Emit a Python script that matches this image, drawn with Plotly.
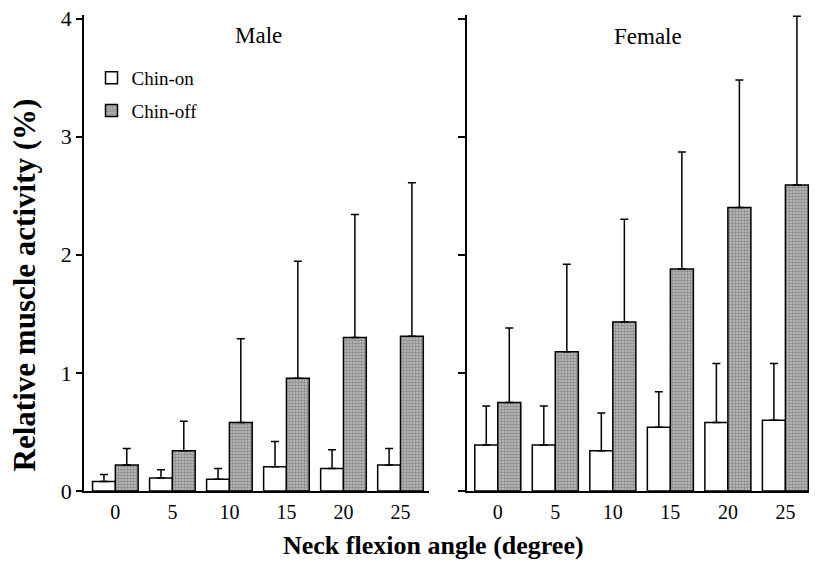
import plotly.graph_objects as go

angles = ["0", "5", "10", "15", "20", "25"]
xpos = [0, 1, 2, 3, 4, 5]

male_on = [0.08, 0.11, 0.10, 0.205, 0.19, 0.22]
male_on_err = [0.14, 0.18, 0.19, 0.42, 0.35, 0.36]
male_off = [0.22, 0.34, 0.58, 0.955, 1.30, 1.31]
male_off_err = [0.36, 0.59, 1.29, 1.945, 2.34, 2.61]

female_on = [0.39, 0.39, 0.34, 0.54, 0.58, 0.60]
female_on_err = [0.72, 0.72, 0.66, 0.84, 1.08, 1.08]
female_off = [0.75, 1.18, 1.43, 1.88, 2.40, 2.59]
female_off_err = [1.38, 1.92, 2.30, 2.87, 3.48, 4.02]

yticks = [0, 1, 2, 3, 4]

FONT = "Liberation Serif"
W, H = 815, 581
YMAX = 4.03
UNIT = 118.6
L, R, B = 84, 6, 89.5
T = 17 - (YMAX - 4) * UNIT
PW, PH = W - L - R, H - T - B


def px(x):
    return (x - L) / PW


def py(y):
    return (H - B - y) / PH


def errs(vals, tops):
    return [t - v for v, t in zip(vals, tops)]


fig = go.Figure()


def add(vals, tops, name, on, xaxis, yaxis, show):
    if on:
        marker = dict(color="white", line=dict(color="black", width=1.5))
    else:
        marker = dict(color="#b0b0b0", line=dict(color="black", width=1.5),
                      pattern=dict(shape=".", fgcolor="#505050", bgcolor="#c0c0c0",
                                   size=3, solidity=0.5))
    fig.add_trace(go.Bar(
        x=xpos, y=vals, name=name, marker=marker,
        error_y=dict(type="data", symmetric=False, array=errs(vals, tops),
                     arrayminus=[0] * len(vals), color="black", thickness=1.5, width=4),
        xaxis=xaxis, yaxis=yaxis, showlegend=show, legendgroup=name,
        cliponaxis=False, offsetgroup=name,
    ))


add(male_on, male_on_err, "Chin-on", True, "x", "y", True)
add(male_off, male_off_err, "Chin-off", False, "x", "y", True)
add(female_on, female_on_err, "Chin-on", True, "x2", "y2", False)
add(female_off, female_off_err, "Chin-off", False, "x2", "y2", False)

axis_common = dict(showgrid=False, zeroline=False, showline=True, linecolor="black",
                   linewidth=1.5)

fig.update_layout(
    width=W, height=H,
    margin=dict(l=L, r=R, t=T, b=B),
    paper_bgcolor="white", plot_bgcolor="white",
    barmode="group", bargap=0.2, bargroupgap=0,
    font=dict(family=FONT, color="black"),
    xaxis=dict(domain=[0, px(429)], range=[-0.55, 5.5], tickmode="array",
               tickvals=xpos, ticktext=angles, ticks="", ticklabelstandoff=2,
               tickfont=dict(size=20, family=FONT), **axis_common),
    yaxis=dict(domain=[0, 1], range=[0, YMAX], tickmode="array", tickvals=yticks,
               ticks="outside", ticklen=6, tickwidth=1.5, tickcolor="black",
               tickfont=dict(size=22, family=FONT), anchor="x", **axis_common),
    xaxis2=dict(domain=[px(467), 1], range=[-0.535, 5.41], tickmode="array",
                tickvals=xpos, ticktext=angles, ticks="", ticklabelstandoff=2,
                tickfont=dict(size=20, family=FONT), anchor="y2", **axis_common),
    yaxis2=dict(domain=[0, 1], range=[0, YMAX], tickmode="array", tickvals=yticks,
                ticks="outside", ticklen=7, tickwidth=1.5, tickcolor="black",
                showticklabels=False, anchor="x2", **axis_common),
    legend=dict(x=px(91.5), y=py(57.5), xanchor="left", yanchor="top",
                font=dict(size=19, family=FONT), bgcolor="rgba(0,0,0,0)",
                traceorder="grouped", tracegroupgap=5, itemwidth=30),
    annotations=[
        dict(text="Male", x=px(258), y=py(34), xref="paper", yref="paper",
             showarrow=False, font=dict(size=23, family=FONT),
             xanchor="center", yanchor="middle"),
        dict(text="Female", x=px(648), y=py(35), xref="paper", yref="paper",
             showarrow=False, font=dict(size=23, family=FONT),
             xanchor="center", yanchor="middle"),
        dict(text="<b>Neck flexion angle (degree)</b>", x=px(433), y=py(546),
             xref="paper", yref="paper", showarrow=False,
             font=dict(size=26, family=FONT), xanchor="center", yanchor="middle"),
        dict(text="<b>Relative muscle activity (%)</b>", x=px(24), y=py(285),
             xref="paper", yref="paper", showarrow=False, textangle=-90,
             font=dict(size=31, family=FONT), xanchor="center", yanchor="middle"),
    ],
)

fig.write_html("out.html")
